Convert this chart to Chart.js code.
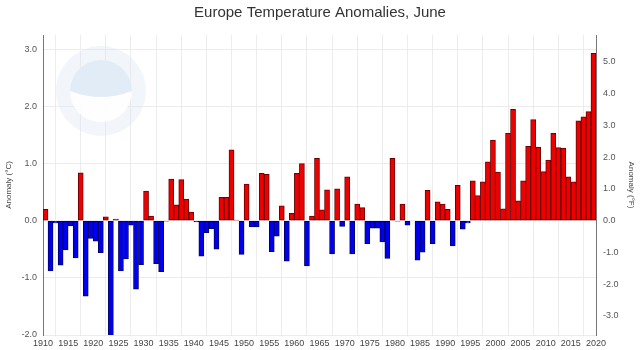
<!DOCTYPE html>
<html>
<head>
<meta charset="utf-8">
<script src="https://cdn.jsdelivr.net/npm/chart.js@4"></script>
<style>
  html, body { margin: 0; padding: 0; background: #fff; }
  #wrap { width: 640px; height: 350px; }
</style>
</head>
<body>
<div id="wrap"><canvas id="graph"></canvas></div>
<script>
// June anomalies for Europe, degrees C, 1910..2019
const firstYear = 1910;
const anomalies = [
   0.20, -0.88, -0.04, -0.78, -0.51, -0.09, -0.65,  0.84, -1.32, -0.31,
  -0.36, -0.56,  0.07, -2.05,  0.03, -0.88, -0.67, -0.08, -1.20, -0.77,
   0.52,  0.08, -0.75, -0.89, -0.01,  0.73,  0.28,  0.72,  0.38,  0.15,
  -0.02, -0.62, -0.21, -0.14, -0.50,  0.41,  0.41,  1.24,  0.01, -0.59,
   0.64, -0.11, -0.11,  0.83,  0.81, -0.54, -0.27,  0.26, -0.71,  0.13,
   0.83,  1.00, -0.79,  0.08,  1.09,  0.19,  0.54, -0.58,  0.56, -0.10,
   0.77, -0.58,  0.29,  0.23, -0.40, -0.13, -0.13, -0.37, -0.66,  1.09,
  -0.01,  0.29, -0.08,  0.00, -0.69, -0.55,  0.53, -0.40,  0.33,  0.29,
   0.20, -0.44,  0.62, -0.15, -0.04,  0.70,  0.44,  0.68,  1.03,  1.41,
   0.85,  0.21,  1.53,  1.95,  0.35,  0.70,  1.30,  1.77,  1.29,  0.86,
   1.06,  1.53,  1.28,  1.27,  0.77,  0.68,  1.75,  1.82,  1.91,  2.93
];
const years = anomalies.map((v, i) => firstYear + i);
const xTickStep = 5;

const cMin = -2, cMax = 3.25;

const red = '#ee0000';
const blue = '#0000ee';

function onlyWhole(scale) {
    scale.ticks = scale.ticks.filter(t => Math.abs(t.value - Math.round(t.value)) < 1e-6);
}

// faint round seal in the upper left, like the source image
const sealPlugin = {
    id: 'seal',
    beforeDatasetsDraw(chart) {
        const ctx = chart.ctx;
        const cx = 101, cy = 91;
        ctx.save();
        ctx.beginPath();
        ctx.arc(cx, cy, 45, 0, Math.PI * 2);
        ctx.fillStyle = 'rgba(222,232,244,0.4)';
        ctx.fill();
        ctx.beginPath();
        ctx.arc(cx, cy, 31, 0, Math.PI * 2);
        ctx.fillStyle = 'rgba(255,255,255,0.9)';
        ctx.fill();
        ctx.beginPath();
        ctx.arc(cx, cy, 31, Math.PI * 1.0, Math.PI * 2.0);
        ctx.quadraticCurveTo(cx, cy + 12, cx - 31, cy);
        ctx.fillStyle = 'rgba(185,210,238,0.4)';
        ctx.fill();
        ctx.restore();
    }
};

const ctx = document.getElementById('graph').getContext('2d');
const graph = new Chart(ctx, {
    type: 'bar',
    data: {
        datasets: [{
            label: 'Anomaly',
            data: years.map((y, i) => ({ x: y + 0.5, y: anomalies[i] })),
            backgroundColor: anomalies.map(v => v >= 0 ? red : blue),
            borderColor: anomalies.map(v => v >= 0 ? '#6a0000' : '#00006a'),
            borderWidth: 1,
            borderSkipped: false,
            barPercentage: 1.0,
            categoryPercentage: 1.0,
            yAxisID: 'y'
        }]
    },
    options: {
        responsive: true,
        maintainAspectRatio: false,
        animation: false,
        layout: { padding: 0 },
        plugins: {
            legend: { display: false },
            tooltip: { enabled: false },
            title: {
                display: true,
                text: 'Europe Temperature Anomalies, June',
                color: '#333',
                font: { family: 'Liberation Sans, Arial, sans-serif', size: 15, weight: 'normal' },
                padding: { top: 4, bottom: 13 }
            }
        },
        scales: {
            x: {
                type: 'linear',
                min: firstYear,
                max: 2020,
                offset: false,
                grid: { color: '#ececec', drawTicks: false },
                border: { display: false },
                ticks: {
                    stepSize: xTickStep,
                    autoSkip: false,
                    maxRotation: 0,
                    padding: 3,
                    color: '#444',
                    font: { family: 'Liberation Sans, Arial, sans-serif', size: 9 },
                    callback: v => String(v)
                },
                afterFit: s => { s.height = 15; }
            },
            y: {
                position: 'left',
                min: cMin,
                max: cMax,
                afterBuildTicks: onlyWhole,
                grid: { color: '#ececec', drawTicks: false },
                border: { display: true, color: '#777', width: 1 },
                ticks: {
                    stepSize: 1,
                    padding: 6,
                    color: '#555',
                    font: { family: 'Liberation Sans, Arial, sans-serif', size: 9 },
                    callback: v => v.toFixed(1)
                },
                title: {
                    display: true,
                    text: 'Anomaly (°C)',
                    color: '#444',
                    font: { family: 'Liberation Sans, Arial, sans-serif', size: 8 },
                    padding: { top: 4, bottom: 2 }
                },
                afterFit: s => { s.width = 43; }
            },
            yF: {
                position: 'right',
                min: cMin * 1.8,
                max: cMax * 1.8,
                afterBuildTicks: onlyWhole,
                grid: { display: false, drawTicks: false },
                border: { display: true, color: '#777', width: 1 },
                ticks: {
                    stepSize: 1,
                    padding: 7,
                    color: '#555',
                    font: { family: 'Liberation Sans, Arial, sans-serif', size: 9 },
                    callback: v => v.toFixed(1)
                },
                title: {
                    display: true,
                    text: 'Anomaly (°F)',
                    color: '#444',
                    font: { family: 'Liberation Sans, Arial, sans-serif', size: 8 },
                    padding: { top: 4, bottom: 2 }
                },
                afterFit: s => { s.width = 44; }
            }
        }
    },
    plugins: [sealPlugin]
});
</script>
</body>
</html>
